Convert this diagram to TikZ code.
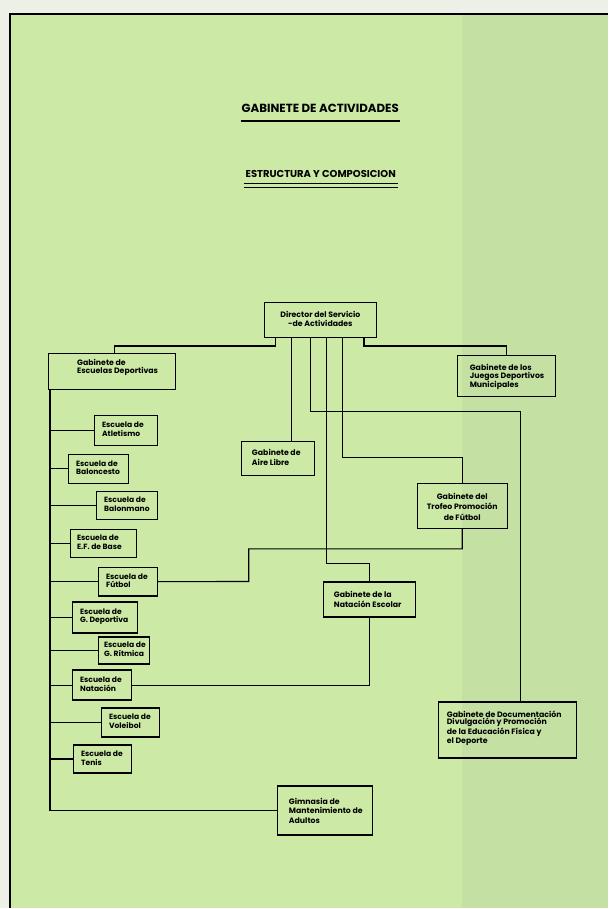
\documentclass[tikz,border=0pt]{standalone}
\usepackage{fontspec}
\setmainfont{Poppins}
\usetikzlibrary{calc,positioning}
\definecolor{paper}{RGB}{205,233,166}
\definecolor{paperdark}{RGB}{196,224,162}
\definecolor{margin}{RGB}{236,240,230}
\tikzset{%
  box/.style={draw, line width=1.3pt, inner sep=0pt, anchor=north west},
  lbl/.style={inner sep=0pt, align=left, anchor=west,
    font=\bfseries\fontsize{7.8}{8.2}\selectfont},
  schoollbl/.style={lbl, font=\bfseries\fontsize{7.6}{8.8}\selectfont},
  link/.style={line width=1.1pt}
}

\begin{document}
\begin{tikzpicture}[x=1pt, y=-1pt]

  % page
  \fill[margin] (0,0) rectangle (609,909);
  \fill[paper] (10,14) rectangle (609,909);
  \fill[paperdark] (462,14) rectangle (609,909);
  \draw[line width=1.6pt] (10,909) -- (10,14) -- (609,14);
  \useasboundingbox (0,0) rectangle (609,909);

  % titles
  \node[inner sep=0pt, font=\bfseries\fontsize{11.8}{13}\selectfont] (title) at (320.5,108) {GABINETE DE ACTIVIDADES};
  \draw[line width=2.6pt] (241,121) -- (400,121);
  \node[inner sep=0pt, font=\bfseries\fontsize{10}{11}\selectfont] (subtitle) at (321,174.5) {ESTRUCTURA Y COMPOSICION};
  \draw[line width=1.3pt] (244,184) -- (398,184);
  \draw[line width=0.9pt] (244,188) -- (398,188);

  % gabinetes
  \node[box, minimum width=112pt, minimum height=35pt] (dir) at (264,302) {};
  \node[lbl, anchor=center, align=center] (dir-t) at ([yshift=1pt]dir.center) {Director del Servicio\\-de Actividades};

  \node[box, minimum width=127pt, minimum height=36pt] (escdep) at (48,353) {};
  \node[lbl] (escdep-t) at ([shift={(29pt,4pt)}]escdep.west) {Gabinete de\\Escuelas Deportivas};

  \node[box, minimum width=98pt, minimum height=41pt] (juegos) at (457,355) {};
  \node[lbl, font=\bfseries\fontsize{7.8}{7.6}\selectfont] (juegos-t) at ([shift={(13pt,-1pt)}]juegos.west) {Gabinete de los\\Juegos Deportivos\\Municipales};

  \node[box, minimum width=73pt, minimum height=34pt] (aire) at (241,441) {};
  \node[lbl, font=\bfseries\fontsize{7.8}{10.5}\selectfont] (aire-t) at ([shift={(11pt,1pt)}]aire.west) {Gabinete de\\Aire Libre};

  \node[box, minimum width=90pt, minimum height=45pt] (trofeo) at (417,483) {};
  \node[lbl, anchor=center, align=center, font=\bfseries\fontsize{7.8}{10.5}\selectfont] (trofeo-t) at ([yshift=-1pt]trofeo.center) {Gabinete del\\Trofeo Promoción\\de Fútbol};

  \node[box, minimum width=92pt, minimum height=35pt] (natesc) at (323,582) {};
  \node[lbl, font=\bfseries\fontsize{7.8}{10.5}\selectfont] (natesc-t) at ([xshift=11pt]natesc.west) {Gabinete de la\\Natación Escolar};

  \node[box, minimum width=138pt, minimum height=56pt] (docum) at (438,702) {};
  \node[lbl, font=\bfseries\fontsize{7.8}{7.6}\selectfont] (docum-t) at ([shift={(9pt,2pt)}]docum.west) {Gabinete de Documentación\\Divulgación y Promoción\\de la Educación Física y\\el Deporte};

  \node[box, minimum width=95pt, minimum height=49pt] (gimn) at (277,786) {};
  \node[lbl, font=\bfseries\fontsize{7.8}{9.5}\selectfont] (gimn-t) at ([xshift=12pt]gimn.west) {Gimnasia de\\Mantenimiento de\\Adultos};

  % escuelas
  \foreach \n/\x/\y/\w/\h/\p/\t in {atle/94/415/63/30/8/Atletismo, balc/68/454/60/29/8/Baloncesto,
      balm/96/491/61/28/8/Balonmano, efb/70/529/66/28/7/E.F. de Base, futb/98/567/59/29/8/Fútbol,
      gdep/72/602/65/31/8/G. Deportiva, grit/98/637/51/27/6/G. Rítmica, nata/72/670/59/30/8/Natación,
      vole/101/708/58/29/8/Voleibol, teni/73/745/58/28/8/Tenis}
  {
    \node[box, minimum width=\w pt, minimum height=\h pt] (\n) at (\x,\y) {};
    \node[schoollbl] (\n-t) at ([shift={(\p pt,1pt)}]\n.west) {Escuela de\\\t};
  }

  % from the director
  \draw[link] ([xshift=12pt]dir.south west) -- ++(0,8) -| ([xshift=67pt]escdep.north west);
  \draw[link] ([xshift=-13pt]dir.south east) -- ++(0,8) -| (juegos.north);
  \coordinate (d1) at ([xshift=28pt]dir.south west);
  \coordinate (d2) at ([xshift=47pt]dir.south west);
  \coordinate (d3) at ([xshift=63pt]dir.south west);
  \coordinate (d4) at ([xshift=79pt]dir.south west);
  \draw[link] (d1) -- (d1 |- aire.north);
  \draw[link] (d2) -- ++(0,74) -| ([xshift=83pt]docum.north west);
  \draw[link] (d3) -- ++(0,226) -| (natesc.north);
  \draw[link] (d4) -- ++(0,120) -| (trofeo.north);

  % cross links
  \draw[link] (trofeo.south) -- ++(0,20) -| (249,582) -- (futb.east);
  \draw[link] (natesc.south) |- (nata.east);

  % escuelas spine
  \coordinate (spine) at ([xshift=2pt]escdep.south west);
  \draw[link] (spine) |- (gimn.west);
  \foreach \s in {atle,balc,balm,efb,futb,gdep,grit,nata,vole,teni}
    \draw[link] (spine |- \s.west) -- (\s.west);

\end{tikzpicture}
\end{document}
